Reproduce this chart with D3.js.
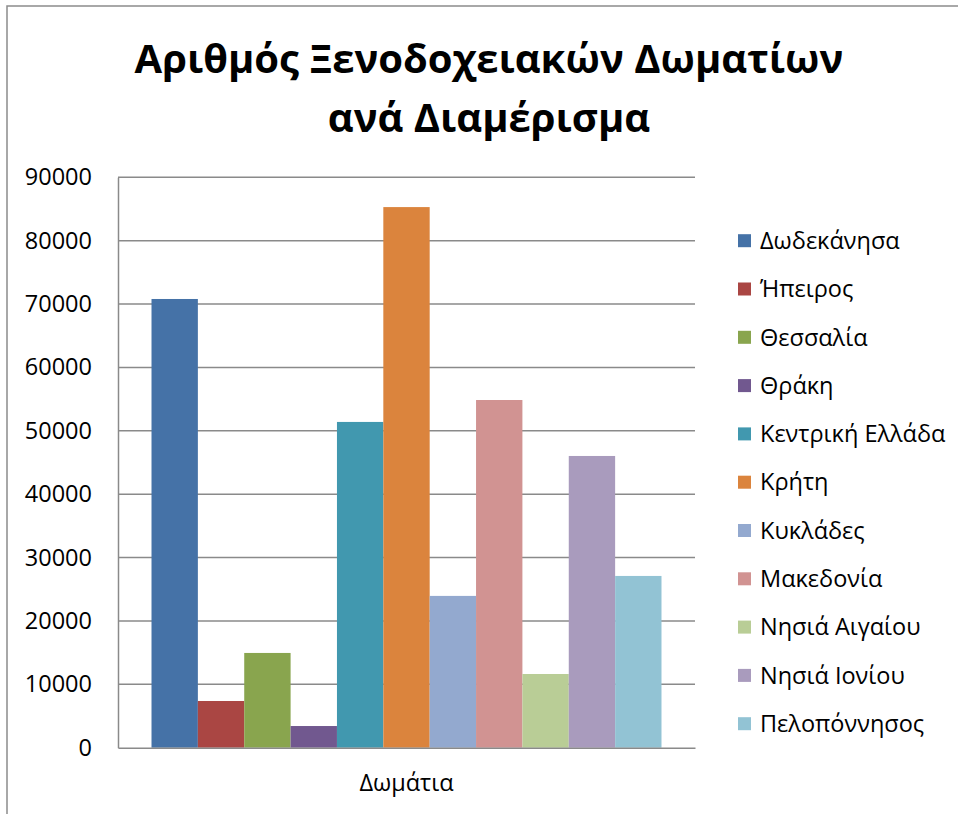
<!DOCTYPE html>
<html>
<head>
<meta charset="utf-8">
<script src="https://cdn.jsdelivr.net/npm/d3@7/dist/d3.min.js"></script>
<style>
  html, body { margin: 0; padding: 0; background: #fff; }
  svg { display: block; }
  text { font-family: "Open Sans", "Noto Sans", sans-serif; fill: #000; }
</style>
</head>
<body>
<svg id="chart" width="958" height="814"></svg>
<script>
// Hotel rooms per region
const category = "Δωμάτια";
const regions = [
  "Δωδεκάνησα", "Ήπειρος", "Θεσσαλία", "Θράκη", "Κεντρική Ελλάδα",
  "Κρήτη", "Κυκλάδες", "Μακεδονία", "Νησιά Αιγαίου", "Νησιά Ιονίου", "Πελοπόννησος"
];
const rooms = [70800, 7370, 14950, 3420, 51400, 85300, 23950, 54860, 11630, 46030, 27100];
const colors = [
  "#4572A7", "#AA4643", "#89A54E", "#71588F", "#4198AF",
  "#DB843D", "#93A9CF", "#D19392", "#B9CD96", "#A99BBD", "#92C3D4"
];
const yTicks = [0, 10000, 20000, 30000, 40000, 50000, 60000, 70000, 80000, 90000];
const titleLines = ["Αριθμός Ξενοδοχειακών Δωματίων", "ανά Διαμέρισμα"];

const svg = d3.select("#chart");

// outer chart frame
svg.append("rect")
  .attr("x", 7).attr("y", 6)
  .attr("width", 1000).attr("height", 1000)
  .attr("fill", "none").attr("stroke", "#8c8c8c").attr("stroke-width", 1.5);

const plot = { left: 118, right: 695, top: 177.3, bottom: 747.7 };

const y = d3.scaleLinear().domain([0, 90000]).range([plot.bottom, plot.top]);

const x0 = d3.scaleBand().domain([category])
  .range([plot.left, plot.right]).paddingOuter(0.0657).paddingInner(0);
const x1 = d3.scaleBand().domain(regions)
  .range([0, x0.bandwidth()]).padding(0);

// gridlines
svg.append("g").selectAll("line")
  .data(yTicks.filter(d => d > 0))
  .join("line")
  .attr("x1", plot.left).attr("x2", plot.right)
  .attr("y1", d => y(d)).attr("y2", d => y(d))
  .attr("stroke", "#8a8a8a").attr("stroke-width", 1.5);

// y axis
const yAxis = svg.append("g")
  .attr("transform", `translate(${plot.left},0)`)
  .call(d3.axisLeft(y).tickValues(yTicks).tickSize(0).tickPadding(26).tickFormat(d3.format("d")));
yAxis.select(".domain").attr("stroke", "#8a8a8a").attr("stroke-width", 1.5);
yAxis.selectAll("text")
  .style("font-family", "'Open Sans', 'Noto Sans', sans-serif")
  .style("font-size", "23.5px").attr("fill", "#000");

// bars
svg.append("g")
  .attr("transform", `translate(${x0(category)},0)`)
  .selectAll("rect")
  .data(rooms.map((v, i) => ({ region: regions[i], value: v, color: colors[i] })))
  .join("rect")
  .attr("x", d => x1(d.region))
  .attr("width", x1.bandwidth())
  .attr("y", d => y(d.value))
  .attr("height", d => y(0) - y(d.value))
  .attr("fill", d => d.color);

// x axis
const xAxis = svg.append("g")
  .attr("transform", `translate(0,${plot.bottom})`)
  .call(d3.axisBottom(x0).tickSize(0).tickPadding(27));
xAxis.select(".domain").attr("stroke", "#8a8a8a").attr("stroke-width", 1.5);
xAxis.selectAll("text")
  .style("font-family", "'Open Sans', 'Noto Sans', sans-serif")
  .style("font-size", "23.5px").attr("fill", "#000");

// title
svg.append("g").selectAll("text")
  .data(titleLines)
  .join("text")
  .attr("x", 489).attr("y", (d, i) => 73 + i * 59)
  .attr("text-anchor", "middle")
  .style("font-size", "40px").style("font-weight", "bold")
  .text(d => d);

// legend
const legend = svg.append("g").selectAll("g")
  .data(regions)
  .join("g")
  .attr("transform", (d, i) => `translate(738,${240.7 + i * 48.3})`);
legend.append("rect")
  .attr("x", 0).attr("y", -6.5).attr("width", 13).attr("height", 13)
  .attr("fill", (d, i) => colors[i]);
legend.append("text")
  .attr("x", 22).attr("y", 0).attr("dy", "0.35em")
  .style("font-size", "23.5px")
  .text(d => d);
</script>
</body>
</html>
